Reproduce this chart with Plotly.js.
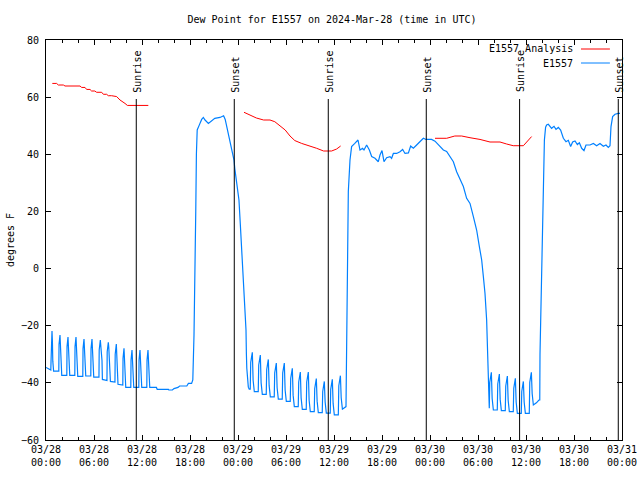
<!DOCTYPE html>
<html>
<head>
<meta charset="utf-8">
<script src="https://cdn.plot.ly/plotly-3.0.1.min.js"></script>
<style>html,body{margin:0;padding:0;background:#fff;}#chart{width:640px;height:480px;}</style>
</head>
<body>
<div id="chart"></div>
<script>
// ---- Data (hours since 2024-03-28 00:00 UTC, dew point in °F) ----
const night1Hours = [0.00,0.45,0.60,0.63,0.75,0.80,0.85,0.95, 1.60,1.63,1.75,1.85,1.97, 2.60,2.63,2.75,2.85,2.97, 3.60,3.63,3.75,3.85,3.97, 4.60,4.63,4.75,4.85,4.97, 5.60,5.63,5.75,5.85,5.97, 6.62,6.65,6.79,6.85,6.92,7.00,7.05, 7.62,7.65,7.79,7.85,7.92,7.98,8.05, 8.62,8.65,8.79,8.90,9.00, 9.60,9.63,9.75,9.87,9.97, 10.60,10.63,10.75,10.87,10.97, 11.60,11.63,11.75,11.87,11.97, 12.60,12.63,12.75,12.87,12.97, 13.80,13.90,15.30,15.35,15.80,16.00,16.50,16.70,17.60,17.80,18.20,18.35];
const night1Dew = [-34.6,-35.5,-35.5,-32.4,-21.9,-25.4,-32.4,-35.9, -35.9,-26.5,-23.3,-33.8,-37.4, -37.4,-27.3,-24.0,-33.9,-37.4, -37.4,-27.3,-24.0,-34.0,-37.7, -37.7,-28.0,-24.7,-34.5,-37.6, -37.6,-28.0,-24.7,-35.0,-38.0, -38.0,-28.5,-25.0,-26.8,-30.3,-32.2,-38.8, -39.2,-29.1,-25.8,-27.7,-31.1,-35.7,-39.5, -39.7,-30.0,-26.4,-36.0,-40.5, -40.75,-31.4,-27.9,-36.5,-41.6, -41.6,-32.0,-28.5,-37.0,-41.6, -41.6,-32.0,-28.5,-37.0,-41.6, -41.6,-32.0,-28.5,-37.0,-41.6, -41.6,-42.25,-42.25,-42.5,-42.5,-42.0,-41.6,-41.1,-41.1,-40.2,-40.2,-39.0];

const day1Hours = [18.50,18.60,18.72,18.80,18.90,19.17,19.46,19.67,19.88,20.30,20.70,21.10,21.75,22.20,22.40,22.60,22.80,23.10,23.30,23.50,23.60,23.80,24.05,24.12,24.30,24.50,24.70,24.85,25.00,25.05,25.10,25.29,25.40];
const day1Dew = [-23.3,-8.0,20.0,40.0,48.5,50.3,52.2,52.9,52.0,50.8,51.8,52.6,52.9,53.5,52.2,49.7,47.3,43.8,40.3,38.0,35.0,31.0,27.0,24.0,15.0,5.0,-6.0,-15.0,-21.5,-30.0,-34.9,-41.5,-42.2];

const night2Hours = [25.53,25.59,25.79,25.89,26.04, 26.53,26.59,26.79,26.89,27.04, 27.53,27.59,27.79,27.89,28.04, 28.53,28.59,28.79,28.89,29.04, 29.53,29.59,29.79,29.89,30.04, 30.53,30.59,30.79,30.89,31.04, 31.53,31.59,31.79,31.89,32.04, 32.53,32.59,32.79,32.89,33.04, 33.53,33.59,33.79,33.89,34.04, 34.53,34.59,34.79,34.89,35.04, 35.53,35.59,35.79,35.89,36.04, 36.54,36.60,36.80,36.90,37.05, 37.50];
const night2Dew = [-42.2,-32.8,-29.3,-39.1,-43.1, -43.1,-33.75,-30.25,-40.0,-44.0, -44.0,-35.3,-31.8,-40.9,-44.9, -44.9,-36.5,-33.05,-41.7,-45.7, -45.7,-36.5,-33.05,-42.5,-46.5, -46.5,-38.4,-34.9,-44.3,-48.3, -48.3,-39.7,-36.2,-45.25,-49.25, -49.25,-39.7,-36.2,-46.1,-50.1, -50.1,-42.0,-38.5,-46.4,-50.4, -50.4,-43.0,-39.5,-46.6,-50.6, -50.6,-42.25,-38.75,-47.2,-51.2, -51.2,-41.0,-37.5,-45.2,-49.2, -48.3];

const day2Hours = [37.58,37.67,37.79,38.00,38.20,38.60,39.00,39.25,39.58,39.75,40.08,40.42,40.71,41.125,41.54,41.75,42.00,42.25,42.58,43.00,43.20,43.42,43.83,44.25,44.58,44.875,45.30,45.58,45.92,46.33,46.75,47.17,47.50,47.79,48.20,48.625,49.04,49.67,50.08,50.50,50.92,51.33,51.75,52.17,52.58,53.00,53.42,53.83,54.17,54.46,54.67,54.875,55.08,55.20,55.29];
const day2Dew = [-30.0,5.0,27.0,38.0,42.7,43.8,45.0,41.5,42.1,41.5,43.25,41.5,39.2,38.6,37.4,39.75,41.3,37.4,38.8,39.2,38.6,40.3,40.3,40.9,41.7,40.3,40.5,42.9,42.1,43.25,44.4,45.6,45.2,45.2,45.2,44.6,43.25,41.5,41.0,39.2,37.4,33.9,31.0,28.7,24.6,22.8,18.2,13.5,7.7,3.0,-2.8,-8.7,-18.0,-27.3,-41.3];

const night3Hours = [55.41,55.47,55.67,55.77,55.92, 56.41,56.47,56.67,56.77,56.92, 57.41,57.47,57.67,57.77,57.92, 58.41,58.47,58.67,58.77,58.92, 59.41,59.47,59.67,59.77,59.92, 60.41,60.47,60.67,60.77,60.92, 61.30,61.62,61.72];
const night3Dew = [-48.9,-39.8,-36.3,-45.5,-49.5, -49.5,-40.4,-36.9,-45.7,-49.7, -49.7,-41.1,-37.6,-46.1,-50.1, -50.1,-41.9,-38.4,-46.7,-50.7, -50.7,-43.0,-39.5,-46.7,-50.7, -50.7,-39.8,-36.3,-43.75,-47.75, -47.0,-46.0,-46.0];

const day3Hours = [61.75,61.90,62.05,62.17,62.30,62.45,62.58,62.79,63.20,63.50,63.75,64.04,64.33,64.67,65.00,65.29,65.58,65.83,66.125,66.42,66.67,66.96,67.25,67.50,68.00,68.42,68.83,69.25,69.67,70.00,70.29,70.50,70.625,70.83,71.125,71.54,71.75];
const day3Dew = [-30.0,-10.0,15.0,31.0,45.0,49.5,50.25,50.5,49.1,49.8,48.7,49.4,48.5,45.6,44.4,44.9,42.7,44.3,44.65,43.4,44.0,42.1,41.3,43.25,43.25,43.8,43.0,43.8,42.8,43.25,42.4,43.0,49.7,53.2,54.0,54.3,54.3];

const analysisHours = [0.79,1.33,1.54,2.17,2.375,4.25,4.46,4.875,5.08,5.50,5.70,6.10,6.33,6.96,7.17,7.58,7.79,8.20,8.83,9.25,9.875,10.17,12.79, 13.5, 24.75,25.50,26.30,27.20,28.00,28.60,29.25,29.90,30.50,31.10,31.96,33.00,33.83,34.70,35.70,36.33,36.83, 42.0, 48.625,50.08,51.10,51.96,53.00,54.25,55.50,56.75,57.58,58.40,59.67,60.70];
const analysisDew = [64.8,64.8,64.25,64.25,63.9,63.9,63.4,63.4,62.7,62.7,62.15,62.15,61.7,61.7,61.0,61.0,60.5,60.5,60.2,59.0,57.8,57.1,57.1, null, 54.7,53.75,52.7,52.0,52.0,51.4,50.0,48.5,46.4,44.8,43.8,43.0,42.1,41.15,41.15,41.85,42.9, null, 45.6,45.6,46.4,46.4,45.8,45.2,44.3,44.3,43.6,43.0,43.0,46.2];

const sunTimes = ['2024-03-28 11:17','2024-03-28 23:32','2024-03-29 11:17','2024-03-29 23:32','2024-03-30 11:12','2024-03-30 23:32'];
const sunLabels = ['Sunrise','Sunset','Sunrise','Sunset','Sunrise','Sunset'];

const seriesNames = ['E1557 Analysis','E1557'];
const seriesColors = ['#ff0000','#0080ff'];
const titleText = 'Dew Point for E1557 on 2024-Mar-28 (time in UTC)';
const yTitle = 'degrees F';
const startDay = Date.UTC(2024,2,28);
const xRange = ['2024-03-28 00:00','2024-03-31 00:00'];
const yRange = [-60, 80];

// ---- Build ----
function toDate(h){
  return new Date(startDay + Math.round(h*3600000)).toISOString().replace('T',' ').slice(0,19);
}
const blueHours = [].concat(night1Hours, day1Hours, night2Hours, day2Hours, night3Hours, day3Hours);
const blueDew = [].concat(night1Dew, day1Dew, night2Dew, day2Dew, night3Dew, day3Dew);

const FONT = 'DejaVu Sans Mono, monospace';
const traces = [
  {x: analysisHours.map(toDate), y: analysisDew, type:'scatter', mode:'lines', name: seriesNames[0],
   line:{color: seriesColors[0], width:1}, connectgaps:false, showlegend:false},
  {x: blueHours.map(toDate), y: blueDew, type:'scatter', mode:'lines', name: seriesNames[1],
   line:{color: seriesColors[1], width:1.2}, showlegend:false}
];

const shapes = sunTimes.map(t => ({type:'line', xref:'x', yref:'paper', x0:t, x1:t, y0:0, y1:0.8525,
  line:{color:'#000', width:1}}));
const annotations = sunTimes.map((t,i) => ({xref:'x', yref:'paper', x:t, y:0.864, text:sunLabels[i],
  textangle:-90, showarrow:false, xanchor:'center', yanchor:'bottom', xshift:1,
  font:{family:FONT, size:10, color:'#000'}}));

// manual gnuplot-style key (text right, sample line left of right edge)
const keyY = [0.9775, 0.9425];
seriesNames.forEach((n,i) => {
  annotations.push({xref:'paper', yref:'paper', x:0.9185, y:keyY[i], text:n, showarrow:false,
    xanchor:'right', yanchor:'middle', font:{family:FONT, size:10, color:'#000'}});
  shapes.push({type:'line', xref:'paper', yref:'paper', x0:0.9288, x1:0.979, y0:keyY[i], y1:keyY[i],
    line:{color:seriesColors[i], width:1}});
});

const layout = {
  width:640, height:480,
  margin:{l:46, r:18, t:40, b:40, pad:0},
  paper_bgcolor:'#fff', plot_bgcolor:'#fff',
  font:{family:FONT, size:10, color:'#000'},
  title:{text:titleText, font:{family:FONT, size:10, color:'#000'}, xref:'paper', x:0.4965, xanchor:'center',
    yref:'container', y:0.9604, yanchor:'middle'},
  showlegend:false,
  xaxis:{type:'date', range:xRange, tickformat:'%m/%d<br>%H:%M', tick0:'2024-03-28', dtick:6*3600000,
    ticks:'inside', ticklen:5, tickwidth:1, tickcolor:'#000', showline:true, linecolor:'#000', linewidth:1,
    mirror:'allticks', showgrid:false, zeroline:false, tickfont:{family:FONT, size:10, color:'#000'},
    minor:{dtick:2*3600000, tick0:'2024-03-28', ticks:'inside', ticklen:3, tickcolor:'#000', showgrid:false},
    fixedrange:true},
  yaxis:{range:yRange, dtick:20, tick0:0, ticks:'inside', ticklen:5, tickwidth:1, tickcolor:'#000',
    showline:true, linecolor:'#000', linewidth:1, mirror:'allticks', showgrid:false, zeroline:false,
    ticklabelstandoff:4, tickfont:{family:FONT, size:10, color:'#000'},
    title:{text:yTitle, font:{family:FONT, size:10, color:'#000'}, standoff:4}, fixedrange:true},
  shapes: shapes,
  annotations: annotations
};

Plotly.newPlot('chart', traces, layout, {displayModeBar:false, staticPlot:true});
</script>
</body>
</html>
